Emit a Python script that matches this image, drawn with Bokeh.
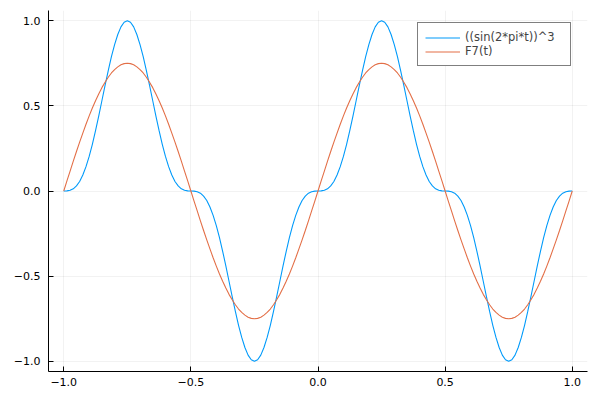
from bokeh.plotting import figure
from bokeh.models import FixedTicker, Range1d
from bokeh.embed import file_html
from bokeh.resources import INLINE

t = [-1.0, -0.9875, -0.975, -0.9625, -0.95, -0.9375, -0.925, -0.9125,
     -0.9, -0.8875, -0.875, -0.8625, -0.85, -0.8375, -0.825, -0.8125,
     -0.8, -0.7875, -0.775, -0.7625, -0.75, -0.7375, -0.725, -0.7125,
     -0.7, -0.6875, -0.675, -0.6625, -0.65, -0.6375, -0.625, -0.6125,
     -0.6, -0.5875, -0.575, -0.5625, -0.55, -0.5375, -0.525, -0.5125,
     -0.5, -0.4875, -0.475, -0.4625, -0.45, -0.4375, -0.425, -0.4125,
     -0.4, -0.3875, -0.375, -0.3625, -0.35, -0.3375, -0.325, -0.3125,
     -0.3, -0.2875, -0.275, -0.2625, -0.25, -0.2375, -0.225, -0.2125,
     -0.2, -0.1875, -0.175, -0.1625, -0.15, -0.1375, -0.125, -0.1125,
     -0.1, -0.0875, -0.075, -0.0625, -0.05, -0.0375, -0.025, -0.0125,
     0.0, 0.0125, 0.025, 0.0375, 0.05, 0.0625, 0.075, 0.0875,
     0.1, 0.1125, 0.125, 0.1375, 0.15, 0.1625, 0.175, 0.1875,
     0.2, 0.2125, 0.225, 0.2375, 0.25, 0.2625, 0.275, 0.2875,
     0.3, 0.3125, 0.325, 0.3375, 0.35, 0.3625, 0.375, 0.3875,
     0.4, 0.4125, 0.425, 0.4375, 0.45, 0.4625, 0.475, 0.4875,
     0.5, 0.5125, 0.525, 0.5375, 0.55, 0.5625, 0.575, 0.5875,
     0.6, 0.6125, 0.625, 0.6375, 0.65, 0.6625, 0.675, 0.6875,
     0.7, 0.7125, 0.725, 0.7375, 0.75, 0.7625, 0.775, 0.7875,
     0.8, 0.8125, 0.825, 0.8375, 0.85, 0.8625, 0.875, 0.8875,
     0.9, 0.9125, 0.925, 0.9375, 0.95, 0.9625, 0.975, 0.9875,
     1.0]

sin_cubed = [
    0.0, 0.0005, 0.004, 0.013, 0.030, 0.056, 0.094, 0.143, 0.203, 0.274, 0.354, 0.440, 0.530, 0.620, 0.707, 0.789, 0.860, 0.919, 0.964, 0.991, 1.000,
    0.991, 0.964, 0.919, 0.860, 0.789, 0.707, 0.620, 0.530, 0.440, 0.354, 0.274, 0.203, 0.143, 0.094, 0.056, 0.030, 0.013, 0.004, 0.0005, 0.0,
    -0.0005, -0.004, -0.013, -0.030, -0.056, -0.094, -0.143, -0.203, -0.274, -0.354, -0.440, -0.530, -0.620, -0.707, -0.789, -0.860, -0.919, -0.964, -0.991, -1.000,
    -0.991, -0.964, -0.919, -0.860, -0.789, -0.707, -0.620, -0.530, -0.440, -0.354, -0.274, -0.203, -0.143, -0.094, -0.056, -0.030, -0.013, -0.004, -0.0005, 0.0,
    0.0005, 0.004, 0.013, 0.030, 0.056, 0.094, 0.143, 0.203, 0.274, 0.354, 0.440, 0.530, 0.620, 0.707, 0.789, 0.860, 0.919, 0.964, 0.991, 1.000,
    0.991, 0.964, 0.919, 0.860, 0.789, 0.707, 0.620, 0.530, 0.440, 0.354, 0.274, 0.203, 0.143, 0.094, 0.056, 0.030, 0.013, 0.004, 0.0005, 0.0,
    -0.0005, -0.004, -0.013, -0.030, -0.056, -0.094, -0.143, -0.203, -0.274, -0.354, -0.440, -0.530, -0.620, -0.707, -0.789, -0.860, -0.919, -0.964, -0.991, -1.000,
    -0.991, -0.964, -0.919, -0.860, -0.789, -0.707, -0.620, -0.530, -0.440, -0.354, -0.274, -0.203, -0.143, -0.094, -0.056, -0.030, -0.013, -0.004, -0.0005, 0.0]

f7 = [
    0.0, 0.059, 0.117, 0.175, 0.232, 0.287, 0.340, 0.392, 0.441, 0.487, 0.530, 0.570, 0.607, 0.639, 0.668, 0.693, 0.713, 0.729, 0.741, 0.748, 0.750,
    0.748, 0.741, 0.729, 0.713, 0.693, 0.668, 0.639, 0.607, 0.570, 0.530, 0.487, 0.441, 0.392, 0.340, 0.287, 0.232, 0.175, 0.117, 0.059, 0.0,
    -0.059, -0.117, -0.175, -0.232, -0.287, -0.340, -0.392, -0.441, -0.487, -0.530, -0.570, -0.607, -0.639, -0.668, -0.693, -0.713, -0.729, -0.741, -0.748, -0.750,
    -0.748, -0.741, -0.729, -0.713, -0.693, -0.668, -0.639, -0.607, -0.570, -0.530, -0.487, -0.441, -0.392, -0.340, -0.287, -0.232, -0.175, -0.117, -0.059, 0.0,
    0.059, 0.117, 0.175, 0.232, 0.287, 0.340, 0.392, 0.441, 0.487, 0.530, 0.570, 0.607, 0.639, 0.668, 0.693, 0.713, 0.729, 0.741, 0.748, 0.750,
    0.748, 0.741, 0.729, 0.713, 0.693, 0.668, 0.639, 0.607, 0.570, 0.530, 0.487, 0.441, 0.392, 0.340, 0.287, 0.232, 0.175, 0.117, 0.059, 0.0,
    -0.059, -0.117, -0.175, -0.232, -0.287, -0.340, -0.392, -0.441, -0.487, -0.530, -0.570, -0.607, -0.639, -0.668, -0.693, -0.713, -0.729, -0.741, -0.748, -0.750,
    -0.748, -0.741, -0.729, -0.713, -0.693, -0.668, -0.639, -0.607, -0.570, -0.530, -0.487, -0.441, -0.392, -0.340, -0.287, -0.232, -0.175, -0.117, -0.059, 0.0]

ticks = [-1.0, -0.5, 0.0, 0.5, 1.0]
tick_labels = ["\u22121.0", "\u22120.5", "0.0", "0.5", "1.0"]
series_names = ["((sin(2*pi*t))^3", "F7(t)"]
colors = ["#009AFA", "#E36F47"]

p = figure(width=592, height=392, output_backend="svg", toolbar_location=None,
           x_range=Range1d(-1.06, 1.06), y_range=Range1d(-1.06, 1.06),
           min_border_left=48, min_border_right=5, min_border_top=10, min_border_bottom=21)
p.outline_line_color = None
p.background_fill_color = "white"
p.border_fill_color = "white"

p.line(t, sin_cubed, line_color=colors[0], line_width=1.1, legend_label=series_names[0])
p.line(t, f7, line_color=colors[1], line_width=1.1, legend_label=series_names[1])

labels = dict(zip(ticks, tick_labels))
for ax in (p.xaxis[0], p.yaxis[0]):
    ax.ticker = FixedTicker(ticks=ticks)
    ax.major_label_overrides = labels
    ax.minor_tick_line_color = None
    ax.major_tick_in = 5
    ax.major_tick_out = 0
    ax.major_tick_line_color = "black"
    ax.axis_line_color = "black"
    ax.axis_line_width = 1
    ax.major_label_text_font = "DejaVu Sans"
    ax.major_label_text_font_size = "11px"
    ax.major_label_text_color = "black"
p.xaxis[0].major_label_standoff = 6
p.yaxis[0].major_label_standoff = 8

for g in (p.xgrid[0], p.ygrid[0]):
    g.ticker = FixedTicker(ticks=ticks)
    g.grid_line_color = "black"
    g.grid_line_alpha = 0.1
    g.grid_line_width = 0.5

lg = p.legend[0]
lg.location = (369, 305)
lg.border_line_color = "black"
lg.border_line_width = 1
lg.background_fill_alpha = 1.0
lg.label_text_font = "DejaVu Sans"
lg.label_text_font_size = "11.5px"
lg.label_height = 13
lg.label_width = 98
lg.glyph_height = 13
lg.glyph_width = 35
lg.label_standoff = 5
lg.padding = 7
lg.spacing = 0
lg.margin = 0

open("out.html", "w").write(file_html(p, INLINE))
